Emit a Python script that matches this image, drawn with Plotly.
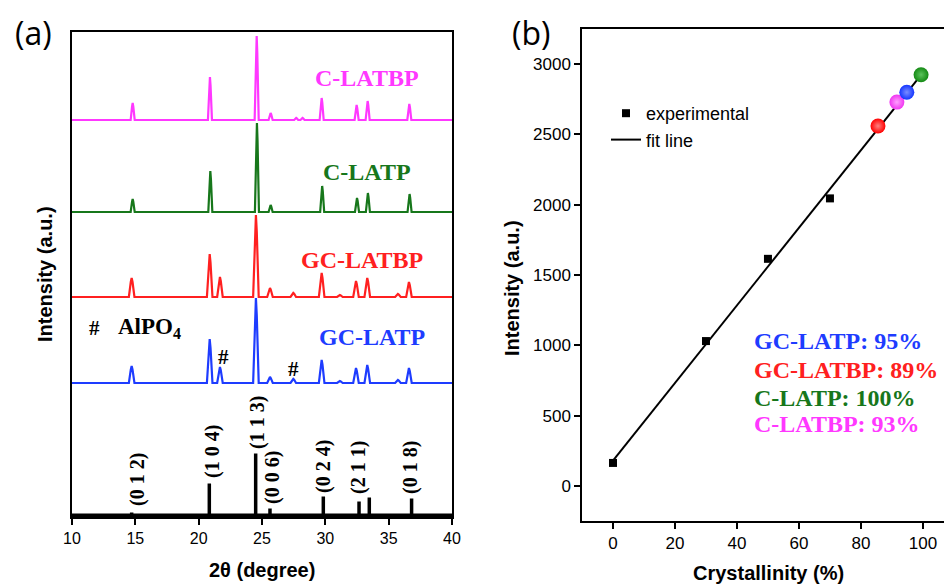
import plotly.graph_objects as go

W, H = 944, 585

# ---------------- Panel (a): XRD data (peak 2θ positions, peak heights) -------------
two_theta_ticks = [10, 15, 20, 25, 30, 35, 40]

c_latbp_pos = [14.79, 20.89, 24.58, 25.68, 27.7, 28.2, 29.71, 32.47, 33.34, 36.63]
c_latbp_h = [17, 43, 84, 7, 2, 2, 22, 15, 19, 16]

c_latp_pos = [14.79, 20.92, 24.6, 25.68, 29.75, 32.5, 33.36, 36.65]
c_latp_h = [13, 41, 89, 7, 26, 14, 19, 18]

gc_latbp_pos = [14.71, 20.87, 21.68, 24.52, 25.63, 27.47, 29.71, 31.15, 32.42, 33.31, 35.73, 36.6]
gc_latbp_h = [19, 43, 20, 82, 9, 4, 24, 2, 16, 19, 3, 15]

gc_latp_pos = [14.71, 20.87, 21.68, 24.52, 25.63, 27.47, 29.71, 31.15, 32.42, 33.31, 35.73, 36.6]
gc_latp_h = [17, 44, 16, 85, 6, 4, 23, 2, 15, 18, 3, 15]

ref_pos = [14.71, 20.84, 24.5, 25.63, 29.84, 32.66, 33.47, 36.81]
ref_h = [3, 32, 62, 7, 19, 14, 18, 17]
ref_labels = ["(0 1 2)", "(1 0 4)", "(1 1 3)", "(0 0 6)", "(0 2 4)", "(2 1 1)", "(0 1 8)"]

sample_names = ["C-LATBP", "C-LATP", "GC-LATBP", "GC-LATP"]

# ---------------- Panel (b): crystallinity vs intensity ----------------------------
exp_x = [0, 30, 50, 70]
exp_y = [163, 1030, 1615, 2045]
fit_x = [0, 100]
fit_y = [180, 2940]
sample_x = [85.5, 91.6, 94.8, 99.4]
sample_y = [2560, 2730, 2800, 2925]
sample_colors = ["#FF0000", "#F035F0", "#1436FF", "#148A14"]
sample_glow = ["#FF8080", "#FFA0FF", "#7A8CFF", "#5CC45C"]
cryst_labels = ["GC-LATP: 95%", "GC-LATBP: 89%", "C-LATP: 100%", "C-LATBP: 93%"]
b_x_ticks = [0, 20, 40, 60, 80, 100]
b_y_ticks = [0, 500, 1000, 1500, 2000, 2500, 3000]

MAG = "#FF38FF"
GRN = "#17771B"
RED = "#FF2020"
BLU = "#1E3CFF"
SANS = "Liberation Sans, Arial, sans-serif"
SERIF = "Liberation Serif, Times New Roman, serif"


def pattern(pos, hts, base, w):
    xs, ys = [10], [base]
    for p, h in sorted(zip(pos, hts)):
        xs += [p - w, p - 0.3 * w, p, p + 0.3 * w, p + w]
        ys += [base, base + 0.8 * h, base + h, base + 0.8 * h, base]
    xs.append(40)
    ys.append(base)
    return xs, ys


def px(x, y):
    return x / W, 1 - y / H


fig = go.Figure()

# panel (a) patterns
for pos, hts, base, w, col in [
    (c_latbp_pos, c_latbp_h, 397, 0.16, MAG),
    (c_latp_pos, c_latp_h, 305, 0.16, GRN),
    (gc_latbp_pos, gc_latbp_h, 220, 0.22, RED),
    (gc_latp_pos, gc_latp_h, 134, 0.22, BLU),
]:
    xs, ys = pattern(pos, hts, base, w)
    fig.add_trace(go.Scatter(x=xs, y=ys, mode="lines", line=dict(color=col, width=2.2),
                             showlegend=False, xaxis="x", yaxis="y", hoverinfo="skip"))

# reference sticks
sx, sy = [], []
for p, h in zip(ref_pos, ref_h):
    sx += [p, p, None]
    sy += [1.5, 1.5 + h, None]
fig.add_trace(go.Scatter(x=sx, y=sy, mode="lines", line=dict(color="black", width=3.5),
                         showlegend=False, xaxis="x", yaxis="y"))
fig.add_trace(go.Scatter(x=[10, 40], y=[1.5, 1.5], mode="lines", line=dict(color="black", width=4),
                         showlegend=False, xaxis="x", yaxis="y"))

# panel (b)
fig.add_trace(go.Scatter(x=fit_x, y=fit_y, mode="lines", name="fit line",
                         line=dict(color="black", width=2), xaxis="x2", yaxis="y2"))
fig.add_trace(go.Scatter(x=exp_x, y=exp_y, mode="markers", name="experimental",
                         marker=dict(symbol="square", size=8, color="black"), xaxis="x2", yaxis="y2"))
fig.add_trace(go.Scatter(x=sample_x, y=sample_y, mode="markers", showlegend=False,
                         marker=dict(size=15, color=sample_colors, line=dict(width=0),
                                     gradient=dict(type="radial", color=sample_glow)),
                         xaxis="x2", yaxis="y2"))

ann = []


def add_text(x, y, text, size, color="black", family=SANS, bold=False, angle=0, xanchor="center"):
    ax, ay = px(x, y)
    ann.append(dict(x=ax, y=ay, xref="paper", yref="paper", text=f"<b>{text}</b>" if bold else text,
                    showarrow=False, textangle=angle, xanchor=xanchor, yanchor="middle",
                    font=dict(size=size, color=color, family=family)))


# panel letters
add_text(33, 32, "(a)", 32, family="Open Sans, sans-serif")
add_text(531, 32, "(b)", 32, family="Open Sans, sans-serif")

# sample labels (a)
for name, (x, y), col in zip(sample_names, [(367, 78), (367, 172), (362, 260), (372, 337)],
                             [MAG, GRN, RED, BLU]):
    add_text(x, y, name, 24, color=col, family=SERIF, bold=True)

add_text(94, 328, "#", 21, family=SERIF, bold=True)
add_text(116, 328, "AlPO<sub>4</sub>", 23, family=SERIF, bold=True, xanchor="left")
add_text(223, 357, "#", 21, family=SERIF, bold=True)
add_text(293, 369, "#", 21, family=SERIF, bold=True)

# reference labels
for lab, (x, y) in zip(ref_labels, [(137, 480), (212, 452), (257, 423), (272, 478),
                                    (323, 467), (358, 468), (410, 468)]):
    add_text(x, y, lab, 20, family=SERIF, bold=True, angle=-90)

# axis titles
add_text(45, 274, "Intensity (a.u.)", 20, bold=True, angle=-90)
add_text(262, 570, "2θ (degree)", 20, bold=True)
add_text(512, 288, "Intensity (a.u.)", 20, bold=True, angle=-90)
add_text(768, 573, "Crystallinity (%)", 20, bold=True)

# crystallinity labels
for lab, y, col in zip(cryst_labels, [341, 370, 398, 424], [BLU, RED, GRN, MAG]):
    add_text(752, y, lab, 24, color=col, family=SERIF, bold=True, xanchor="left")

axis_common = dict(showgrid=False, zeroline=False, linecolor="black", linewidth=1.5,
                   tickcolor="black", tickwidth=1.5, ticklen=6, ticks="outside",
                   automargin=False)

fig.update_layout(
    width=W, height=H, autosize=False,
    margin=dict(l=0, r=0, t=0, b=0, pad=0, autoexpand=False),
    paper_bgcolor="white", plot_bgcolor="white",
    xaxis=dict(domain=[72 / W, 452 / W], range=[10, 40], tickvals=two_theta_ticks,
               showline=True, mirror=True, tickfont=dict(size=16, family=SANS, color="black"),
               anchor="y", **axis_common),
    yaxis=dict(domain=[1 - 517 / H, 1 - 32 / H], range=[0, 485], showticklabels=False,
               showline=True, mirror=True, showgrid=False, zeroline=False, linecolor="black",
               linewidth=1.5, ticks="", anchor="x", automargin=False),
    xaxis2=dict(domain=[582 / W, 1.0], range=[-10, 106.8], tickvals=b_x_ticks,
                showline=True, mirror=True, tickfont=dict(size=17, family=SANS, color="black"),
                anchor="y2", **axis_common),
    yaxis2=dict(domain=[1 - 521 / H, 1 - 29 / H], range=[-250, 3250], tickvals=b_y_ticks,
                showline=True, mirror=False, tickfont=dict(size=17, family=SANS, color="black"),
                anchor="x2", **axis_common),
    showlegend=True,
    legend=dict(x=606 / W, y=1 - 95 / H, xanchor="left", yanchor="top",
                bgcolor="rgba(0,0,0,0)", traceorder="reversed",
                font=dict(size=18, family=SANS, color="black"), itemwidth=30),
    annotations=ann,
)

fig.write_html("out.html")
